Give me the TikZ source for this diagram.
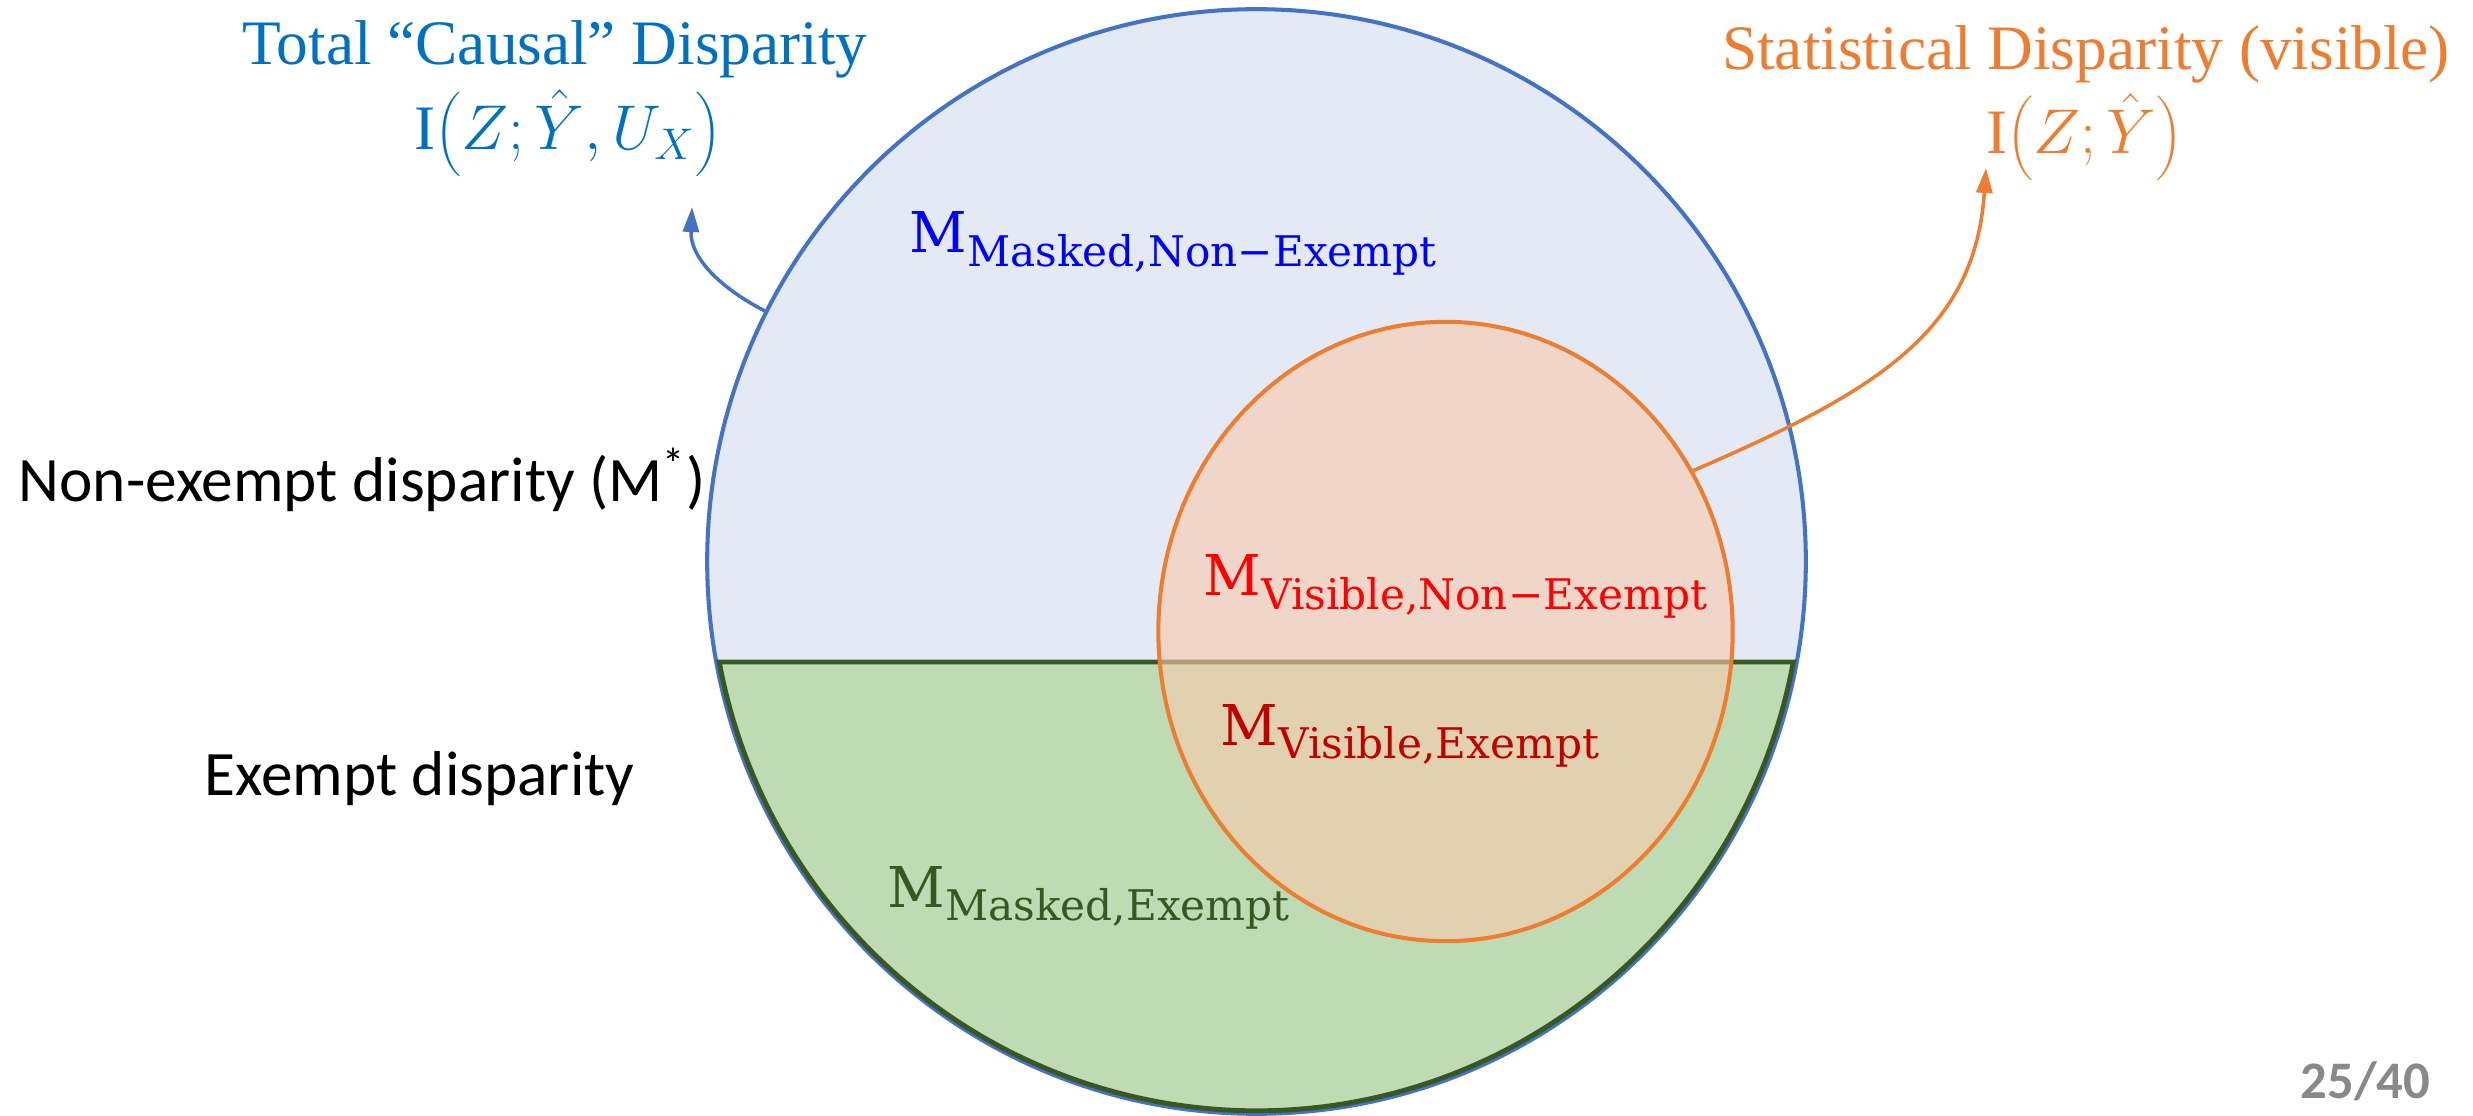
\RequirePackage{fix-cm}
\documentclass[tikz,border=0pt]{standalone}
\usepackage{fontspec}
\setmainfont{Liberation Serif}
\newfontfamily\calibri{Carlito}
\newfontfamily\cambria{DejaVu Serif}
\usetikzlibrary{shapes.geometric,arrows.meta}
\definecolor{causalblue}{RGB}{0,112,192}
\definecolor{ringblue}{RGB}{68,114,196}
\definecolor{ringfill}{RGB}{227,234,246}
\definecolor{exemptfill}{RGB}{191,219,179}
\definecolor{exemptline}{RGB}{56,87,35}
\definecolor{visorange}{RGB}{237,125,49}
\definecolor{visfill}{RGB}{248,203,173}
\definecolor{darkred}{RGB}{192,0,0}
\definecolor{pagegray}{RGB}{137,137,137}
\newcommand{\msub}[1]{{\fontsize{16}{18}\selectfont M}\raisebox{-0.135cm}{\fontsize{12}{14}\selectfont #1}}

\begin{document}
\begin{tikzpicture}[x=0.01cm,y=-0.01cm,
  heading/.style={inner sep=0,anchor=base,font=\fontsize{18}{22}\selectfont},
  side/.style={inner sep=0,anchor=base west,font=\calibri\fontsize{18}{22}\selectfont},
  part/.style={inner sep=0,anchor=base west,font=\cambria},
  pointer/.style={line width=1pt,-{Triangle[length=0.25cm,width=0.16cm]}}]
\useasboundingbox (0,0) rectangle (2473,1116);
\node[ellipse,draw=ringblue,fill=ringfill,line width=1.15pt,inner sep=0,minimum width=10.98cm,minimum height=11.04cm] (total) at (1256.5,561.5) {};
\filldraw[fill=exemptfill,draw=exemptline,line width=1.4pt] (719.7,662) -- (1793.3,662) arc[start angle=-10.55,end angle=-169.45,x radius=5.46cm,y radius=5.49cm] -- cycle;
\node[ellipse,draw=visorange,fill=visfill,fill opacity=0.62,line width=1.15pt,inner sep=0,minimum width=5.74cm,minimum height=6.19cm] (visible) at (1445.5,631.5) {};

\node[heading,text=causalblue] (causal) at (555,65) {Total “Causal” Disparity};
\node[heading,text=causalblue] (causalmi) at (568,150) {$\mathrm{I}\!\left(Z;\hat{Y},U_X\right)$};
\node[heading,text=visorange] (stat) at (2086,70) {Statistical Disparity (visible)};
\node[heading,text=visorange] (statmi) at (2084,154) {$\mathrm{I}\!\left(Z;\hat{Y}\right)$};
\node[side] (nonexempt) at (18,502) {Non-exempt disparity (M\textsuperscript{*})};
\node[side] (exempt) at (204,795) {Exempt disparity};
\node[part,text=blue] (maskedne) at (909,253) {\msub{Masked,Non−Exempt}};
\node[part,text=red] (visiblene) at (1203,596) {\msub{Visible,Non−Exempt}};
\node[part,text=darkred] (visiblee) at (1220,745) {\msub{Visible,Exempt}};
\node[part,text=exemptline] (maskede) at (887,907) {\msub{Masked,Exempt}};
\node[inner sep=0,anchor=base west,text=pagegray,font=\calibri\bfseries\fontsize{15}{18}\selectfont] (page) at (2300,1098) {25/40};

\coordinate (causaltip) at (692,207);
\coordinate (stattip) at (1986,168);
\draw[pointer,ringblue] (total.153) .. controls (715,285) and (690,255) .. (causaltip);
\draw[pointer,visorange] (visible.33) .. controls (1880,390) and (1975,330) .. (stattip);
\end{tikzpicture}
\end{document}
